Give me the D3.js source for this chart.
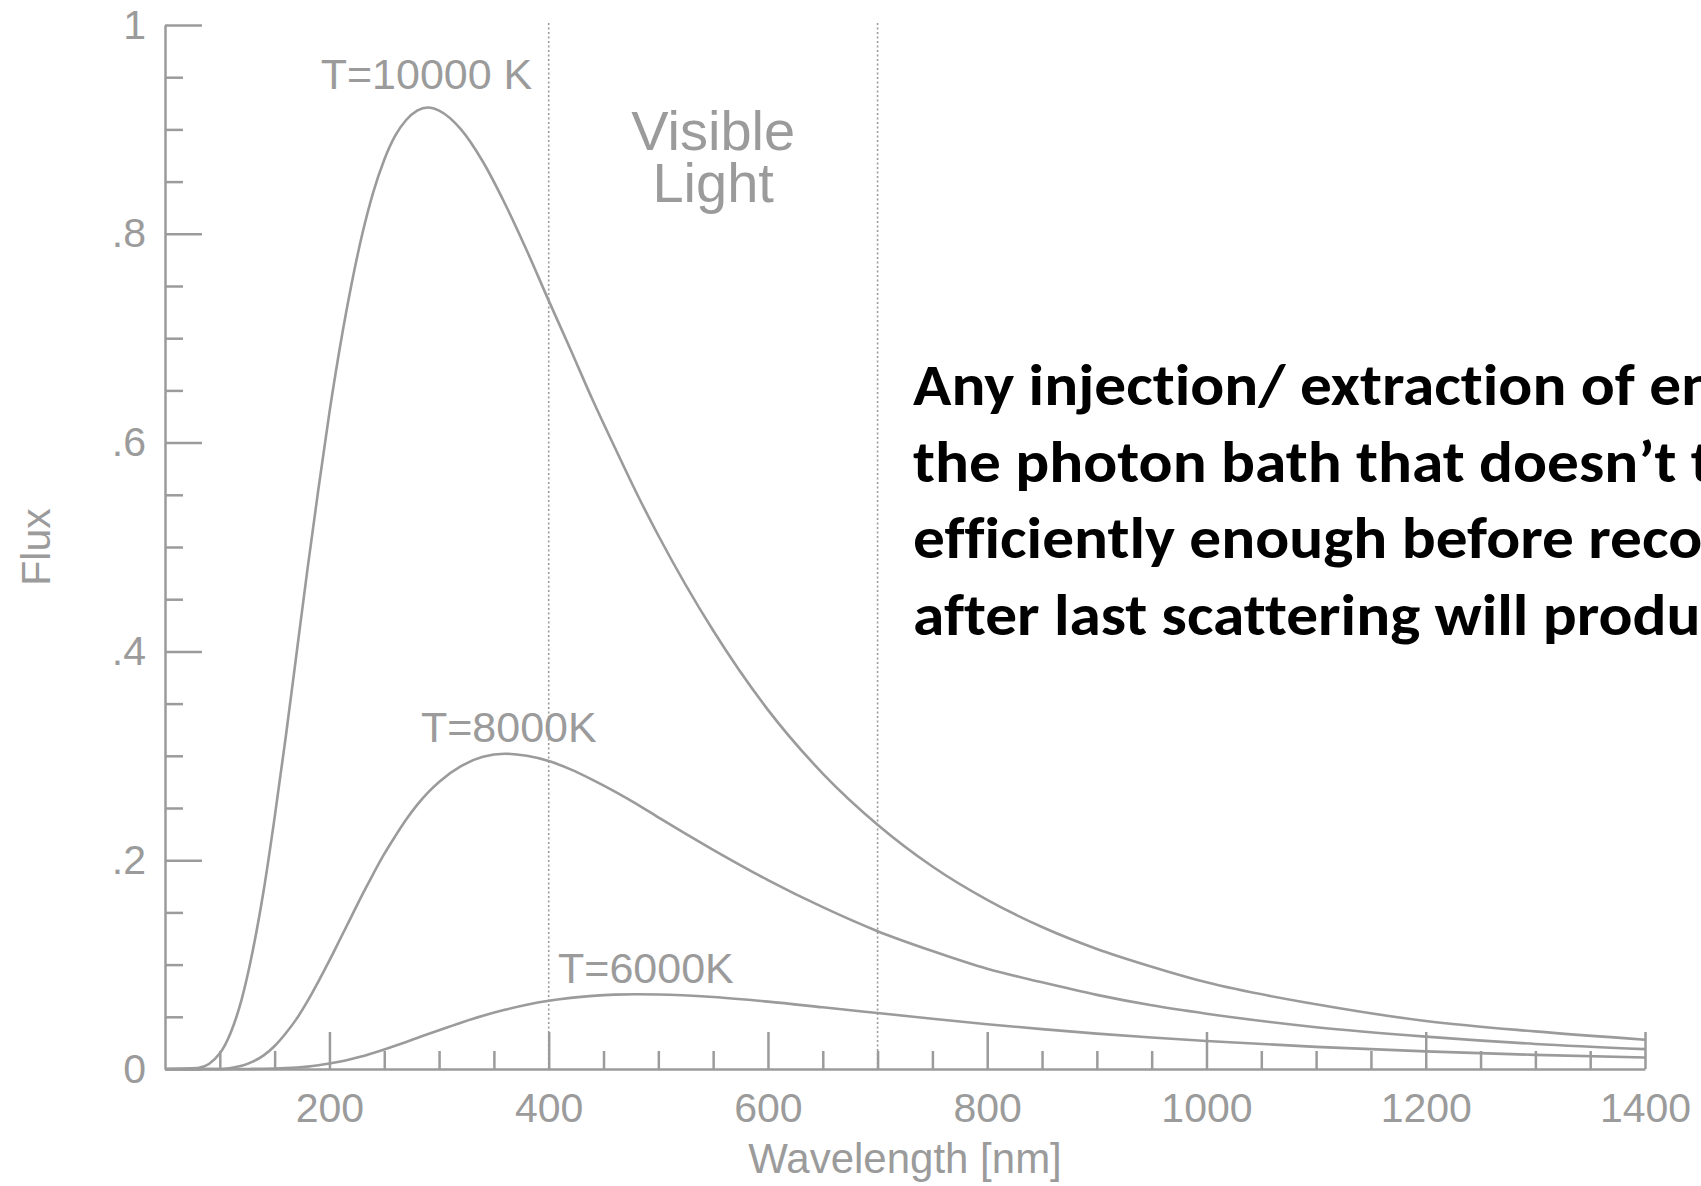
<!DOCTYPE html>
<html>
<head>
<meta charset="utf-8">
<script src="https://cdn.jsdelivr.net/npm/d3@7"></script>
<style>
  body { margin: 0; background: #fff; }
  svg { display: block; }
</style>
</head>
<body>
<div id="chart"></div>
<script>
// Blackbody spectra (flux, normalised)
const wavelengths = [50, 80, 100, 110, 120, 130, 140, 150, 160, 170, 180, 190, 200, 210, 220, 230, 240, 250,
  260, 270, 280, 290, 300, 320, 340, 360, 380, 400, 420, 440, 460, 480, 500, 550, 600, 650, 700, 750,
  800, 850, 900, 950, 1000, 1100, 1200, 1300, 1400];
const flux10000 = [0, 0.001, 0.015, 0.035, 0.067, 0.113, 0.171, 0.241, 0.317, 0.398, 0.479, 0.556, 0.629,
  0.694, 0.751, 0.800, 0.840, 0.871, 0.894, 0.909, 0.918, 0.921, 0.918, 0.900, 0.869, 0.829, 0.784, 0.736,
  0.689, 0.641, 0.596, 0.552, 0.511, 0.420, 0.344, 0.283, 0.234, 0.194, 0.162, 0.136, 0.115, 0.098, 0.083,
  0.062, 0.046, 0.036, 0.028];
const flux8000 = [0, 0, 0, 0.001, 0.003, 0.007, 0.013, 0.022, 0.034, 0.048, 0.065, 0.084, 0.104, 0.125,
  0.146, 0.167, 0.187, 0.206, 0.223, 0.239, 0.253, 0.265, 0.275, 0.290, 0.299, 0.302, 0.300, 0.295, 0.287,
  0.277, 0.266, 0.254, 0.241, 0.210, 0.181, 0.155, 0.132, 0.113, 0.096, 0.083, 0.071, 0.061, 0.053, 0.040,
  0.031, 0.024, 0.019];
const flux6000 = [0, 0, 0, 0, 0, 0.0001, 0.0002, 0.0004, 0.0008, 0.0014, 0.0023, 0.0036, 0.0052, 0.0072,
  0.0096, 0.0123, 0.0154, 0.0187, 0.0222, 0.0259, 0.0297, 0.0335, 0.0372, 0.0444, 0.0510, 0.0567, 0.0615,
  0.0653, 0.0681, 0.0700, 0.0712, 0.0716, 0.0714, 0.0689, 0.0645, 0.0591, 0.0536, 0.0481, 0.0429, 0.0382,
  0.0339, 0.0301, 0.0268, 0.0212, 0.0169, 0.0135, 0.0110];

const curveLabels = ["T=10000 K", "T=8000K", "T=6000K"];

const xMajorTicks = [200, 400, 600, 800, 1000, 1200, 1400];
const xMinorTicks = [100, 150, 250, 300, 350, 450, 500, 550, 650, 700, 750, 850, 900, 950,
  1050, 1100, 1150, 1250, 1300, 1350];
const yMajorTicks = [0, 0.2, 0.4, 0.6, 0.8, 1];
const yTickLabels = ["0", ".2", ".4", ".6", ".8", "1"];
const yMinorTicks = [0.05, 0.1, 0.15, 0.25, 0.3, 0.35, 0.45, 0.5, 0.55, 0.65, 0.7, 0.75, 0.85, 0.9, 0.95];

const visibleBand = [400, 700];

const noteLines = [
  "Any injection/ extraction of energy",
  "the photon bath that doesn\u2019t thermalize",
  "efficiently enough before recombination",
  "after last scattering will produce"
];

const width = 1701;
const height = 1186;
const grey = "#9b9b9b";
const font = "'Liberation Sans', Arial, Helvetica, sans-serif";

const svg = d3.select("#chart").append("svg")
  .attr("width", width)
  .attr("height", height)
  .attr("viewBox", [0, 0, width, height])
  .style("font-family", font);

const x = d3.scaleLinear().domain([50, 1400]).range([165, 1645]);
const y = d3.scaleLinear().domain([0, 1]).range([1069, 25]);

// style an axis group grey
function greyAxis(g) {
  g.attr("font-size", null).attr("font-family", null);
  g.selectAll("line, path").attr("stroke", grey).attr("stroke-width", 2.5);
  g.selectAll("text").attr("fill", grey).style("font-size", "41px");
}

// x axis: ticks point up into the plot
svg.append("g")
  .attr("transform", `translate(0,${y(0)})`)
  .call(d3.axisBottom(x).tickValues(xMinorTicks).tickSizeInner(-18).tickSizeOuter(0).tickFormat(""))
  .call(g => g.select(".domain").remove())
  .call(greyAxis);

svg.append("g")
  .attr("transform", `translate(0,${y(0)})`)
  .call(d3.axisBottom(x).tickValues(xMajorTicks).tickSizeInner(-37).tickSizeOuter(0).tickPadding(24)
    .tickFormat(d3.format("d")))
  .call(greyAxis);

// y axis: ticks point right into the plot
svg.append("g")
  .attr("transform", `translate(${x(50)},0)`)
  .call(d3.axisLeft(y).tickValues(yMinorTicks).tickSizeInner(-18).tickSizeOuter(0).tickFormat(""))
  .call(g => g.select(".domain").remove())
  .call(greyAxis);

svg.append("g")
  .attr("transform", `translate(${x(50)},0)`)
  .call(d3.axisLeft(y).tickValues(yMajorTicks).tickSizeInner(-37).tickSizeOuter(0).tickPadding(19)
    .tickFormat((d, i) => yTickLabels[i]))
  .call(greyAxis);

// visible light boundaries
svg.append("g")
  .selectAll("line")
  .data(visibleBand)
  .join("line")
  .attr("x1", d => x(d))
  .attr("x2", d => x(d))
  .attr("y1", y(1) - 2)
  .attr("y2", y(0))
  .attr("stroke", grey)
  .attr("stroke-width", 1.6)
  .attr("stroke-dasharray", "2,2.5");

// curves
const line = d3.line()
  .x((d, i) => x(wavelengths[i]))
  .y(d => y(d))
  .curve(d3.curveMonotoneX);

svg.append("g")
  .attr("fill", "none")
  .attr("stroke", grey)
  .attr("stroke-width", 2.6)
  .attr("stroke-linejoin", "round")
  .selectAll("path")
  .data([flux10000, flux8000, flux6000])
  .join("path")
  .attr("d", line);

// curve labels (anchored in data space)
const labelAnchors = [[192, 0.939], [283.5, 0.313], [408.5, 0.0824]];
svg.append("g")
  .attr("fill", grey)
  .style("font-size", "43px")
  .selectAll("text")
  .data(curveLabels)
  .join("text")
  .attr("x", (d, i) => x(labelAnchors[i][0]))
  .attr("y", (d, i) => y(labelAnchors[i][1]))
  .text(d => d);

// "Visible Light"
const vis = svg.append("text")
  .attr("fill", grey)
  .attr("text-anchor", "middle")
  .style("font-size", "56px");
vis.append("tspan").attr("x", x((visibleBand[0] + visibleBand[1]) / 2)).attr("y", 150).text("Visible");
vis.append("tspan").attr("x", x((visibleBand[0] + visibleBand[1]) / 2)).attr("y", 202).text("Light");

// axis titles
svg.append("text")
  .attr("x", (x(50) + x(1400)) / 2)
  .attr("y", 1173)
  .attr("text-anchor", "middle")
  .attr("fill", grey)
  .style("font-size", "42px")
  .text("Wavelength [nm]");

svg.append("text")
  .attr("transform", `translate(50,${(y(0) + y(1)) / 2}) rotate(-90)`)
  .attr("text-anchor", "middle")
  .attr("fill", grey)
  .style("font-size", "41px")
  .text("Flux");

// bold note, runs off the right edge
const note = svg.append("g")
  .style("font-family", "Carlito, Calibri, Lato, 'Open Sans', sans-serif")
  .style("font-weight", "bold")
  .style("font-size", "58px")
  .style("font-variant-ligatures", "none")
  .style("font-feature-settings", "'liga' 0, 'clig' 0")
  .attr("fill", "#000");

note.selectAll("text")
  .data(noteLines)
  .join("text")
  .attr("x", 0)
  .attr("y", (d, i) => 405 + i * 76.7)
  .text(d => d);

// squeeze the substitute font so the first line matches the Calibri width
const probe = note.append("text").text("Any injection/ extraction of");
const sx = 722 / probe.node().getComputedTextLength();
probe.remove();
note.attr("transform", `translate(913,0) scale(${sx},1)`);
</script>
</body>
</html>
